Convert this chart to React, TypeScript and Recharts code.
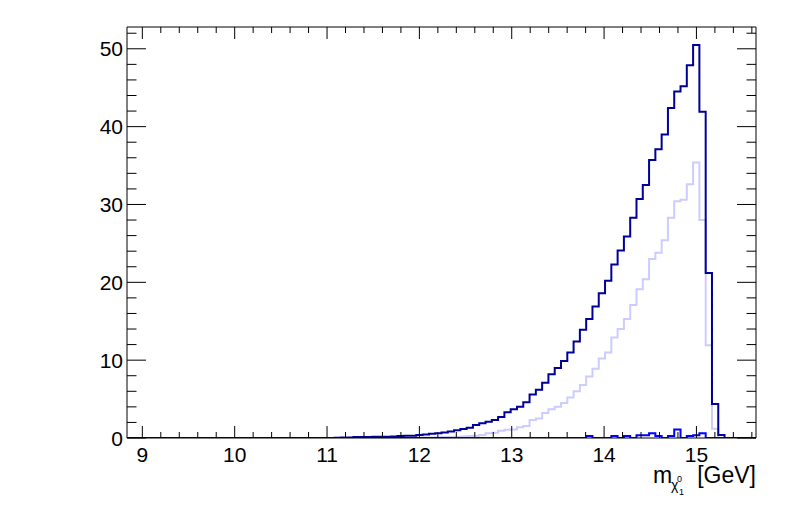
import { LineChart, Line, XAxis, YAxis } from 'recharts'

// histogram range (100 bins over the whole x axis)
const X_MIN = 8.834
const X_MAX = 15.645
const N_BINS = 100
const Y_MAX = 52.8

const X_MAJOR = [9, 10, 11, 12, 13, 14, 15]
const Y_MAJOR = [0, 10, 20, 30, 40, 50]

// bin contents
const DARK_COUNTS = [
  0, 0, 0, 0, 0, 0, 0, 0, 0, 0,
  0, 0, 0, 0, 0, 0, 0, 0, 0, 0,
  0, 0, 0, 0, 0, 0, 0, 0, 0, 0,
  0, 0, 0, 0.03, 0.05, 0.06, 0.13, 0.14, 0.14, 0.15,
  0.16, 0.16, 0.18, 0.25, 0.28, 0.3, 0.4, 0.45, 0.55, 0.62,
  0.72, 0.85, 0.99, 1.16, 1.33, 1.67, 1.88, 2.1, 2.3, 2.7,
  3.3, 3.7, 4.0, 4.6, 5.6, 6.2, 7.1, 8.2, 9.0, 9.9,
  11.0, 12.4, 13.9, 15.3, 16.9, 18.6, 20.2, 22.3, 24.1, 25.9,
  28.3, 30.7, 32.5, 35.7, 37.1, 39.0, 42.4, 44.5, 45.2, 47.9,
  50.5, 41.9, 21.2, 4.37, 0.4, 0, 0, 0, 0, 0,
]

const LIGHT_COUNTS = [
  0, 0, 0, 0, 0, 0, 0, 0, 0, 0,
  0, 0, 0, 0, 0, 0, 0, 0, 0, 0,
  0, 0, 0, 0, 0, 0, 0, 0, 0, 0,
  0, 0, 0, 0, 0, 0, 0, 0, 0, 0,
  0, 0, 0, 0, 0, 0.02, 0.03, 0.05, 0.07, 0.1,
  0.12, 0.14, 0.17, 0.2, 0.26, 0.3, 0.39, 0.6, 0.68, 0.94,
  1.05, 1.1, 1.37, 1.54, 2.3, 2.5, 3.2, 3.7, 4.0, 4.5,
  5.2, 6.0, 6.8, 7.9, 8.9, 10.2, 11.0, 12.9, 14.0, 15.3,
  17.1, 19.1, 20.4, 23.0, 23.8, 25.4, 28.3, 30.4, 30.6, 32.6,
  35.4, 28.0, 11.9, 1.2, 0, 0, 0, 0, 0, 0,
]

const BLUE_COUNTS = [
  0, 0, 0, 0, 0, 0, 0, 0, 0, 0,
  0, 0, 0, 0, 0, 0, 0, 0, 0, 0,
  0, 0, 0, 0, 0, 0, 0, 0, 0, 0,
  0, 0, 0, 0, 0, 0, 0, 0, 0, 0,
  0, 0, 0, 0, 0, 0, 0, 0, 0, 0,
  0, 0, 0, 0, 0, 0, 0, 0, 0, 0,
  0, 0, 0, 0, 0, 0, 0, 0, 0, 0,
  0, 0, 0, 0.26, 0, 0, 0, 0.26, 0, 0.26,
  0, 0.34, 0.34, 0.6, 0.26, 0, 0.26, 1.1, 0, 0.26,
  0.35, 0.6, 0, 0, 0, 0, 0, 0, 0, 0,
]

const FONT = '"Liberation Sans", Arial, Helvetica, sans-serif'

const binWidth = (X_MAX - X_MIN) / N_BINS
const rows = DARK_COUNTS.map((d, i) => ({
  x: X_MIN + i * binWidth,
  dark: d,
  light: LIGHT_COUNTS[i],
  blue: BLUE_COUNTS[i],
}))
// closing edge so the last step reaches the frame
rows.push({
  x: X_MAX,
  dark: DARK_COUNTS[N_BINS - 1],
  light: LIGHT_COUNTS[N_BINS - 1],
  blue: BLUE_COUNTS[N_BINS - 1],
})

function steps(from: number, to: number, step: number) {
  const out: number[] = []
  for (let v = from; v <= to + 1e-9; v += step) out.push(+v.toFixed(3))
  return out
}

const X_TICKS = steps(9, 15.6, 0.2)
const Y_TICKS = steps(0, 52, 2)

const isMajorX = (v: number) => X_MAJOR.some((m) => Math.abs(m - v) < 1e-6)
const isMajorY = (v: number) => Y_MAJOR.some((m) => Math.abs(m - v) < 1e-6)

function BottomTick({ x, y, payload }: any) {
  const major = isMajorX(payload.value)
  return (
    <g>
      <line x1={x} y1={y} x2={x} y2={y - (major ? 12 : 6)} stroke="#000" />
      {major && (
        <text x={x} y={y + 24} textAnchor="middle" fontSize={21} fontFamily={FONT} fill="#000">
          {payload.value}
        </text>
      )}
    </g>
  )
}

function TopTick({ x, y, payload }: any) {
  const major = isMajorX(payload.value)
  return <line x1={x} y1={y} x2={x} y2={y + (major ? 12 : 6)} stroke="#000" />
}

function LeftTick({ x, y, payload }: any) {
  const major = isMajorY(payload.value)
  return (
    <g>
      <line x1={x} y1={y} x2={x + (major ? 19 : 9.5)} y2={y} stroke="#000" />
      {major && (
        <text x={x - 4} y={y + 7.5} textAnchor="end" fontSize={21} fontFamily={FONT} fill="#000">
          {payload.value}
        </text>
      )}
    </g>
  )
}

function RightTick({ x, y, payload }: any) {
  const major = isMajorY(payload.value)
  return <line x1={x} y1={y} x2={x - (major ? 19 : 9.5)} y2={y} stroke="#000" />
}

function AxisTitle({ viewBox }: any) {
  const right = viewBox.x + viewBox.width
  const base = viewBox.y + 45
  return (
    <g fontFamily={FONT} fill="#000">
      <text x={right - 103} y={base} fontSize={23}>m</text>
      <text x={right - 85} y={base + 7} fontSize={14}>χ</text>
      <text x={right - 79} y={base - 1} fontSize={9}>0</text>
      <text x={right - 77} y={base + 12} fontSize={9}>1</text>
      <text x={right} y={base} fontSize={23} textAnchor="end">[GeV]</text>
    </g>
  )
}

const axisCommon = {
  type: 'number' as const,
  allowDataOverflow: true,
  interval: 0 as const,
  tickSize: 0,
  tickMargin: 0,
  tickLine: false,
  axisLine: { stroke: '#000' },
}

export default function App() {
  return (
    <div style={{ position: 'absolute', left: 0, top: 0, background: '#fff' }}>
      <LineChart
        width={796}
        height={522}
        data={rows}
        margin={{ top: 26, right: 39, bottom: 83, left: 126 }}
      >
        <XAxis
          {...axisCommon}
          xAxisId="main"
          dataKey="x"
          domain={[X_MIN, X_MAX]}
          ticks={X_TICKS}
          height={1}
          tick={(p: any) => <BottomTick {...p} />}
          label={{ content: (p: any) => <AxisTitle {...p} /> }}
        />
        <XAxis
          {...axisCommon}
          xAxisId="top"
          orientation="top"
          dataKey="x"
          domain={[X_MIN, X_MAX]}
          ticks={X_TICKS}
          height={1}
          tick={(p: any) => <TopTick {...p} />}
        />
        <YAxis
          {...axisCommon}
          yAxisId="main"
          domain={[0, Y_MAX]}
          ticks={Y_TICKS}
          width={1}
          tick={(p: any) => <LeftTick {...p} />}
        />
        <YAxis
          {...axisCommon}
          yAxisId="right"
          orientation="right"
          domain={[0, Y_MAX]}
          ticks={Y_TICKS}
          width={1}
          tick={(p: any) => <RightTick {...p} />}
        />
        <Line
          xAxisId="main"
          yAxisId="main"
          type="stepAfter"
          dataKey="light"
          stroke="#ccccff"
          strokeWidth={2}
          dot={false}
          isAnimationActive={false}
        />
        <Line
          xAxisId="main"
          yAxisId="main"
          type="stepAfter"
          dataKey="blue"
          stroke="#0000ff"
          strokeWidth={2}
          dot={false}
          isAnimationActive={false}
        />
        <Line
          xAxisId="main"
          yAxisId="main"
          type="stepAfter"
          dataKey="dark"
          stroke="#000099"
          strokeWidth={2}
          dot={false}
          isAnimationActive={false}
        />
      </LineChart>
    </div>
  )
}
